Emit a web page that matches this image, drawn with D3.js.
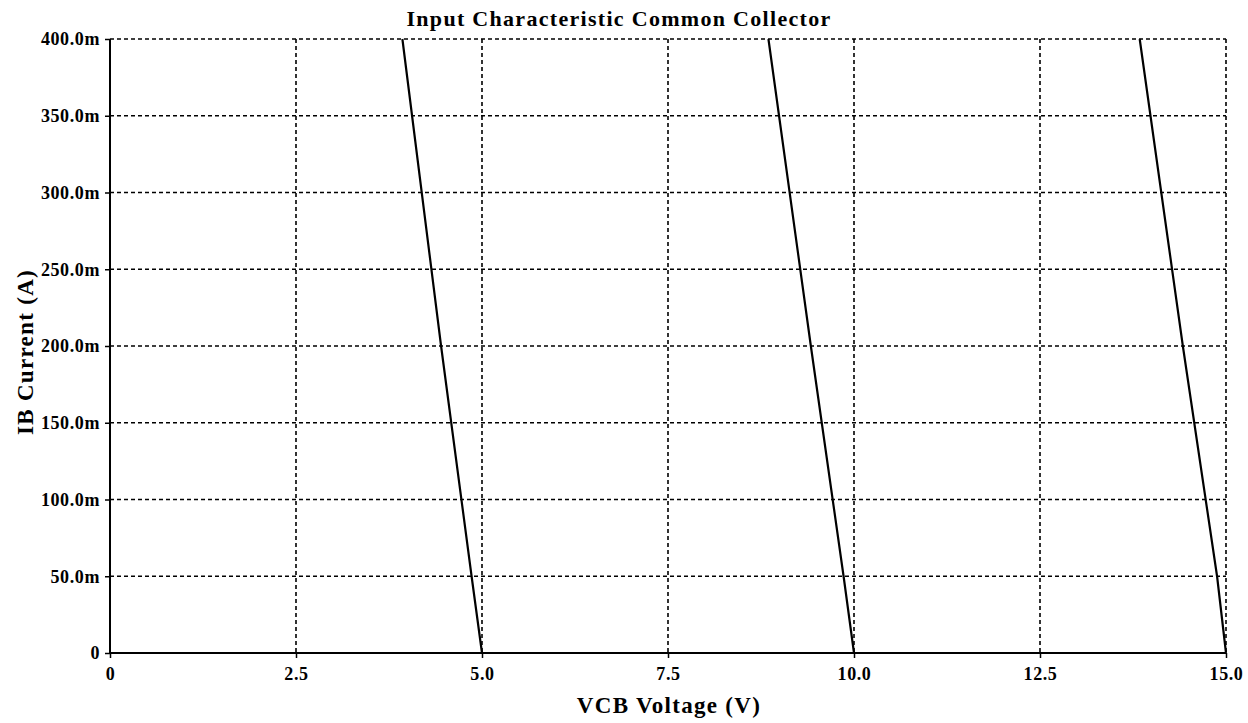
<html>
<head>
  <title>Input Characteristic Common Collector</title>
  <script src="https://d3js.org/d3.v7.min.js"></script>
  <meta http-equiv="content-type" content="text/html;charset=UTF-8">
  <style>
    body { margin: 0; background: #fff; }
    svg { display: block; font-family: "Liberation Serif", "Times New Roman", serif; font-weight: bold; }
  </style>
</head>
<body>
  <svg id="chart"></svg>
  <script>
    // tick values / labels
    var xTicks = [0, 2.5, 5, 7.5, 10, 12.5, 15];
    var xTickLabels = ["0", "2.5", "5.0", "7.5", "10.0", "12.5", "15.0"];
    var yTicks = [0, 0.05, 0.1, 0.15, 0.2, 0.25, 0.3, 0.35, 0.4];
    var yTickLabels = ["0", "50.0m", "100.0m", "150.0m", "200.0m", "250.0m", "300.0m", "350.0m", "400.0m"];

    // curves: [VCB, IB]
    var curve5 = [[3.93, 0.4], [4.45, 0.2], [4.86, 0.05], [5.0, 0]];
    var curve10 = [[8.85, 0.4], [9.42, 0.2], [9.86, 0.05], [10.0, 0]];
    var curve15 = [[13.84, 0.4], [14.42, 0.2], [14.88, 0.05], [15.0, 0.0]];
    var curves = [curve5, curve10, curve15];

    var width = 1248, height = 723;
    var plotL = 110, plotR = 1226, plotT = 39, plotB = 653;

    var svg = d3.select('#chart').attr('width', width).attr('height', height);

    var x = d3.scaleLinear().domain([0, 15]).range([plotL, plotR]);
    var y = d3.scaleLinear().domain([0, 0.4]).range([plotB, plotT]);

    // grid
    var grid = svg.append('g')
      .attr('stroke', '#000')
      .attr('stroke-width', 1.6)
      .attr('stroke-dasharray', '4,3');
    grid.selectAll('line.v')
      .data(xTicks.slice(1))
      .enter().append('line')
      .attr('x1', d => x(d)).attr('x2', d => x(d))
      .attr('y1', plotT).attr('y2', plotB);
    grid.selectAll('line.h')
      .data(yTicks.slice(1))
      .enter().append('line')
      .attr('x1', plotL).attr('x2', plotR)
      .attr('y1', d => y(d)).attr('y2', d => y(d));

    // axes
    var xAxis = d3.axisBottom(x).tickValues(xTicks)
      .tickFormat((d, i) => xTickLabels[i]).tickSize(5).tickPadding(9);
    var yAxis = d3.axisLeft(y).tickValues(yTicks)
      .tickFormat((d, i) => yTickLabels[i]).tickSize(5).tickPadding(5);

    var gx = svg.append('g').attr('transform', 'translate(0,' + plotB + ')').call(xAxis);
    var gy = svg.append('g').attr('transform', 'translate(' + plotL + ',0)').call(yAxis);
    [gx, gy].forEach(function (g) {
      g.select('.domain').remove();
      g.selectAll('.tick line').attr('stroke', '#000').attr('stroke-width', 1.5);
      g.selectAll('.tick text')
        .attr('fill', '#000')
        .style('font-family', '"Liberation Serif", serif')
        .style('font-weight', 'bold')
        .style('font-size', '18px')
        .style('letter-spacing', '0.6px');
    });

    svg.append('line')
      .attr('x1', plotL).attr('x2', plotR).attr('y1', plotB).attr('y2', plotB)
      .attr('stroke', '#000').attr('stroke-width', 2);
    svg.append('line')
      .attr('x1', plotL).attr('x2', plotL).attr('y1', plotT).attr('y2', plotB)
      .attr('stroke', '#000').attr('stroke-width', 2);

    // curves
    var line = d3.line().x(d => x(d[0])).y(d => y(d[1]));
    svg.append('g').selectAll('path')
      .data(curves)
      .enter().append('path')
      .attr('d', line)
      .attr('fill', 'none')
      .attr('stroke', '#000')
      .attr('stroke-width', 2.2);

    // titles
    svg.append('text')
      .attr('x', 619).attr('y', 26)
      .attr('text-anchor', 'middle')
      .style('font-size', '22px')
      .style('letter-spacing', '1.3px')
      .text('Input Characteristic Common Collector');
    svg.append('text')
      .attr('x', 669).attr('y', 713)
      .attr('text-anchor', 'middle')
      .style('font-size', '23px')
      .style('letter-spacing', '1.3px')
      .text('VCB Voltage (V)');
    svg.append('text')
      .attr('transform', 'translate(33,352) rotate(-90)')
      .attr('text-anchor', 'middle')
      .style('font-size', '23px')
      .style('letter-spacing', '1.3px')
      .text('IB Current (A)');
  </script>
</body>
</html>
